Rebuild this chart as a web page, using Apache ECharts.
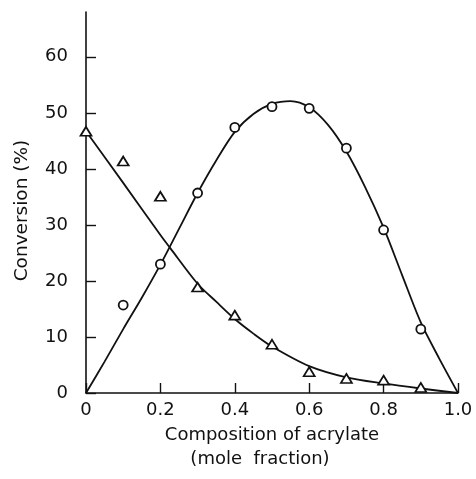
<!DOCTYPE html>
<html>
<head>
<meta charset="utf-8">
<script src="https://cdn.jsdelivr.net/npm/echarts@6/dist/echarts.min.js"></script>
<style>
  html, body { margin: 0; padding: 0; background: #fff; }
  #chart { width: 476px; height: 479px; }
</style>
</head>
<body>
<div id="chart"></div>
<script>
// Measured conversions (%) vs. acrylate mole fraction
const circleX = [0.1, 0.2, 0.3, 0.4, 0.5, 0.6, 0.7, 0.8, 0.9];
const circleY = [15.7, 23.0, 35.7, 47.4, 51.1, 50.8, 43.7, 29.1, 11.4];

const triangleX = [0, 0.1, 0.2, 0.3, 0.4, 0.5, 0.6, 0.7, 0.8, 0.9];
const triangleY = [46.7, 41.4, 35.1, 18.9, 13.9, 8.7, 3.8, 2.6, 2.3, 1.0];

// Fitted curves
const circleFitX = [0, 0.05, 0.1, 0.15, 0.2, 0.25, 0.3, 0.35, 0.4, 0.45, 0.5, 0.55, 0.6, 0.65, 0.7, 0.75, 0.8, 0.85, 0.9, 0.95, 1.0];
const circleFitY = [0, 5.6, 11.4, 17.0, 22.9, 29.3, 35.7, 41.5, 46.6, 49.8, 51.6, 52.1, 51.0, 47.9, 43.1, 36.8, 29.5, 21.0, 12.6, 6.1, 0];

const triangleFitX = [0, 0.1, 0.2, 0.226, 0.3, 0.35, 0.4, 0.45, 0.5, 0.6, 0.7, 0.8, 0.9, 1.0];
const triangleFitY = [46.7, 37.5, 28.2, 25.9, 19.5, 16.3, 13.2, 10.6, 8.3, 4.8, 2.8, 1.7, 0.8, 0];

const yTicks = [0, 10, 20, 30, 40, 50, 60];

const zip = (xs, ys) => xs.map((x, i) => [x, ys[i]]);

const FONT = 'DejaVu Sans';
const INK = '#111';

const chart = echarts.init(document.getElementById('chart'), null, { renderer: 'canvas' });

chart.setOption({
  animation: false,
  backgroundColor: '#fff',
  grid: { left: 86, right: 18, top: 12, bottom: 86 },
  xAxis: {
    type: 'value',
    min: 0,
    max: 1,
    interval: 0.2,
    name: '{a|Composition of acrylate}\n{b|(mole  fraction)}',
    nameLocation: 'middle',
    nameGap: 30,
    nameTextStyle: {
      rich: {
        a: { fontFamily: FONT, fontSize: 18, color: INK, lineHeight: 24 },
        b: { fontFamily: FONT, fontSize: 18, color: INK, lineHeight: 24, padding: [0, 24, 0, 0] }
      }
    },
    axisLine: { lineStyle: { color: INK, width: 1.6 } },
    axisTick: { inside: true, length: 10, lineStyle: { color: INK, width: 1.4 } },
    axisLabel: {
      margin: 8,
      fontFamily: FONT,
      fontSize: 18,
      color: INK,
      formatter: v => (v === 0 ? '0' : v.toFixed(1))
    },
    splitLine: { show: false }
  },
  yAxis: {
    type: 'value',
    min: 0,
    max: 68,
    name: '{a|Conversion (%)}',
    nameLocation: 'middle',
    nameGap: 54,
    nameTextStyle: {
      rich: {
        a: { fontFamily: FONT, fontSize: 18.5, color: INK, padding: [0, 16, 0, 0] }
      }
    },
    axisLine: { lineStyle: { color: INK, width: 1.6 } },
    axisTick: { inside: true, length: 10, customValues: yTicks, lineStyle: { color: INK, width: 1.4 } },
    axisLabel: {
      margin: 18,
      fontFamily: FONT,
      fontSize: 18,
      color: INK,
      customValues: yTicks
    },
    splitLine: { show: false }
  },
  series: [
    {
      type: 'line',
      data: zip(circleFitX, circleFitY),
      smooth: 0.3,
      showSymbol: false,
      lineStyle: { color: INK, width: 1.8 },
      z: 2
    },
    {
      type: 'line',
      data: zip(triangleFitX, triangleFitY),
      smooth: 0.3,
      showSymbol: false,
      lineStyle: { color: INK, width: 1.8 },
      z: 2
    },
    {
      type: 'scatter',
      data: zip(circleX, circleY),
      symbol: 'circle',
      symbolSize: 9,
      itemStyle: { color: '#fff', borderColor: INK, borderWidth: 1.8, opacity: 1 },
      z: 3
    },
    {
      type: 'scatter',
      data: zip(triangleX, triangleY),
      symbol: 'triangle',
      symbolSize: [11, 9],
      itemStyle: { color: '#fff', borderColor: INK, borderWidth: 1.7, opacity: 1 },
      z: 3
    }
  ]
});
</script>
</body>
</html>
